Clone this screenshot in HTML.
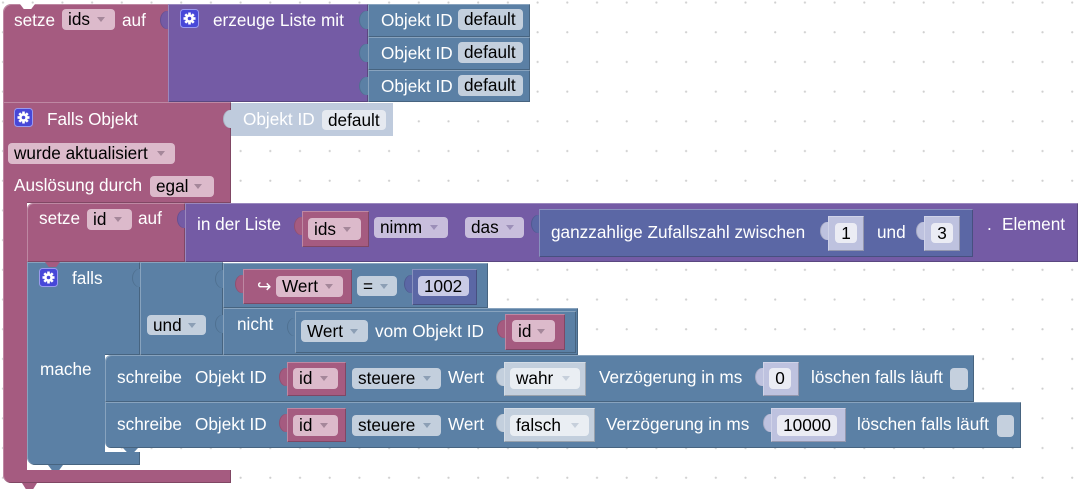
<!DOCTYPE html>
<html><head><meta charset="utf-8">
<style>
*{margin:0;padding:0;box-sizing:border-box}
body{width:1088px;height:492px;overflow:hidden;background:#fff;position:relative;font-family:"Liberation Sans",Arial,"DejaVu Sans",sans-serif;font-size:17.2px}
.a{position:absolute}
.o{box-shadow:inset 1px 1px 0 rgba(255,255,255,.28),inset -1px -1px 0 rgba(0,0,0,.22)}
.t{position:absolute;color:#fff;line-height:20px;white-space:nowrap}
.pk{background:#a55b80}
.pu{background:#745ba5}
.bl{background:#5b80a5}
.ma{background:#5b67a5}
.f{position:absolute;color:#000;border-radius:4px;white-space:nowrap;padding-left:6px}
.fp{background:#dcbacb}
.fv{background:#c8bedc}
.fb{background:#c3cfdd}
.ar{position:absolute;width:0;height:0;border-left:4px solid transparent;border-right:4px solid transparent;border-top:5px solid #a5879a;right:10px}
.fb .ar{border-top-color:#8c9fb5}
.fv .ar{border-top-color:#9c8fb8}
.tab{position:absolute;width:9px;height:18px;border-radius:7px 0 0 7px/9px 0 0 9px;box-shadow:inset 1px 0 0 rgba(0,0,0,.12)}
.bump{position:absolute;width:15px;clip-path:polygon(0 0,100% 0,75% 100%,25% 100%)}
.c{text-align:center;padding-left:0}
</style></head><body>
<svg class="a" style="left:0;top:0" width="1088" height="492"><defs><pattern id="d" x="1.8" y="1.3" width="29.7" height="29.7" patternUnits="userSpaceOnUse"><circle cx="1.2" cy="1.2" r="1.1" fill="#cfcfcf"/></pattern></defs><rect width="1088" height="492" fill="url(#d)"/></svg>

<!-- Block 1 setze ids auf -->
<div class="a pk o" style="left:3px;top:4px;width:166px;height:99px;border-radius:8px 0 0 0"></div>
<div class="bump" style="left:20px;top:4px;height:5px;background:#fff"></div>
<div class="t" style="left:14px;top:9.5px">setze</div>
<div class="f fp" style="left:62px;top:9px;width:53px;height:21px;line-height:21px">ids<span class="ar" style="top:8px"></span></div>
<div class="t" style="left:122px;top:9.5px">auf</div>

<div class="tab pu" style="left:160px;top:11px"></div>
<div class="a pu o" style="left:168px;top:4px;width:200px;height:98px"></div>
<svg class="a" style="left:180px;top:9px" width="19" height="19" viewBox="0 0 19 19"><rect x="0.5" y="0.5" width="18" height="18" rx="3" fill="#4747d8" stroke="#9a9af0"/><g fill="#fff" transform="translate(9.5 9.5)"><circle r="4.3"/><rect x="-1.3" y="-6" width="2.6" height="12"/><rect x="-1.3" y="-6" width="2.6" height="12" transform="rotate(45)"/><rect x="-1.3" y="-6" width="2.6" height="12" transform="rotate(90)"/><rect x="-1.3" y="-6" width="2.6" height="12" transform="rotate(135)"/></g><circle cx="9.5" cy="9.5" r="1.8" fill="#4747d8"/></svg>
<div class="t" style="left:213px;top:9.5px">erzeuge Liste mit</div>

<div class="tab bl" style="left:359px;top:11px"></div>
<div class="a bl o" style="left:368px;top:4px;width:162px;height:33px"></div>
<div class="t" style="left:381px;top:9.7px">Objekt ID</div>
<div class="f fb" style="left:458px;top:9px;width:65px;height:21px;line-height:21px">default</div>

<div class="tab bl" style="left:359px;top:44px"></div>
<div class="a bl o" style="left:368px;top:37px;width:162px;height:33px"></div>
<div class="t" style="left:381px;top:42.5px">Objekt ID</div>
<div class="f fb" style="left:458px;top:42px;width:65px;height:21px;line-height:21px">default</div>

<div class="tab bl" style="left:359px;top:77px"></div>
<div class="a bl o" style="left:368px;top:70px;width:162px;height:32px"></div>
<div class="t" style="left:381px;top:75.5px">Objekt ID</div>
<div class="f fb" style="left:458px;top:75px;width:65px;height:21px;line-height:21px">default</div>

<!-- Falls Objekt -->
<div class="a pk o" style="left:3px;top:102px;width:228px;height:101px"></div>
<div class="a pk" style="left:3px;top:200px;width:24px;height:283px;border-radius:0 0 0 8px;box-shadow:inset 1px 0 0 rgba(255,255,255,.28)"></div>
<div class="a pk" style="left:3px;top:470px;width:228px;height:13px;border-radius:0 0 0 8px;box-shadow:inset -1px -1px 0 rgba(0,0,0,.22),inset 1px 0 0 rgba(255,255,255,.28)"></div>
<div class="bump pk" style="left:22px;top:483px;height:6px"></div>
<svg class="a" style="left:14px;top:108px" width="19" height="19" viewBox="0 0 19 19"><rect x="0.5" y="0.5" width="18" height="18" rx="3" fill="#4747d8" stroke="#9a9af0"/><g fill="#fff" transform="translate(9.5 9.5)"><circle r="4.3"/><rect x="-1.3" y="-6" width="2.6" height="12"/><rect x="-1.3" y="-6" width="2.6" height="12" transform="rotate(45)"/><rect x="-1.3" y="-6" width="2.6" height="12" transform="rotate(90)"/><rect x="-1.3" y="-6" width="2.6" height="12" transform="rotate(135)"/></g><circle cx="9.5" cy="9.5" r="1.8" fill="#4747d8"/></svg>
<div class="t" style="left:47px;top:109px">Falls Objekt</div>
<div class="tab" style="left:223px;top:110px;background:#bfcbdd"></div>
<div class="a" style="left:231px;top:103px;width:162px;height:33px;background:#bfcbdd"></div>
<div class="t" style="left:243px;top:109px">Objekt ID</div>
<div class="f" style="left:322px;top:110px;width:64px;height:20px;line-height:20px;background:#e5e9f0">default</div>
<div class="f fp" style="left:8px;top:143px;width:167px;height:21px;line-height:21px">wurde aktualisiert<span class="ar" style="top:8px"></span></div>
<div class="t" style="left:14px;top:175px">Auslösung durch</div>
<div class="f fp" style="left:150px;top:176px;width:64px;height:21px;line-height:21px">egal<span class="ar" style="top:8px;right:12px"></span></div>

<!-- setze id auf -->
<div class="a pk o" style="left:27px;top:203px;width:158px;height:59px;border-radius:6px 0 0 0"></div>
<div class="t" style="left:39px;top:208px">setze</div>
<div class="f fp" style="left:87px;top:209px;width:45px;height:21px;line-height:21px">id<span class="ar" style="top:8px"></span></div>
<div class="t" style="left:138px;top:208px">auf</div>

<div class="tab pu" style="left:177px;top:210px"></div>
<div class="a pu o" style="left:185px;top:203px;width:893px;height:59px"></div>
<div class="t" style="left:197px;top:214px">in der Liste</div>
<div class="tab pk" style="left:294px;top:217px"></div>
<div class="a pk o" style="left:302px;top:211px;width:67px;height:36px"></div>
<div class="f fp" style="left:308px;top:218px;width:53px;height:22px;line-height:22px">ids<span class="ar" style="top:9px"></span></div>
<div class="f fv" style="left:374px;top:217px;width:74px;height:21px;line-height:21px">nimm<span class="ar" style="top:8px"></span></div>
<div class="f fv" style="left:465px;top:217px;width:59px;height:21px;line-height:21px">das<span class="ar" style="top:8px"></span></div>

<div class="tab ma" style="left:531px;top:215px"></div>
<div class="a ma o" style="left:539px;top:209px;width:434px;height:48px"></div>
<div class="t" style="left:551px;top:221.5px">ganzzahlige Zufallszahl zwischen</div>
<div class="tab" style="left:820px;top:222px;background:#bec2df"></div>
<div class="a o" style="left:828px;top:216px;width:36px;height:35px;background:#bec2df"></div>
<div class="f c" style="left:835px;top:223px;width:22px;height:20px;line-height:20px;background:#ebecf4">1</div>
<div class="t" style="left:877px;top:221.5px">und</div>
<div class="tab" style="left:916px;top:222px;background:#bec2df"></div>
<div class="a o" style="left:924px;top:216px;width:36px;height:35px;background:#bec2df"></div>
<div class="f c" style="left:931px;top:223px;width:22px;height:20px;line-height:20px;background:#ebecf4">3</div>
<div class="t" style="left:987px;top:214px">.</div>
<div class="t" style="left:1002px;top:214px">Element</div>

<!-- falls block -->
<div class="a bl o" style="left:27px;top:262px;width:113px;height:93px"></div>
<div class="a bl" style="left:27px;top:350px;width:78px;height:115px;border-radius:0 0 0 8px;box-shadow:inset 1px 0 0 rgba(255,255,255,.28)"></div>
<div class="a bl" style="left:27px;top:452px;width:113px;height:13px;border-radius:0 0 0 8px;box-shadow:inset -1px -1px 0 rgba(0,0,0,.22),inset 1px 0 0 rgba(255,255,255,.28)"></div>
<div class="bump bl" style="left:48px;top:465px;height:5px"></div>
<div class="bump pk" style="left:45px;top:262px;height:5px"></div>
<svg class="a" style="left:39px;top:268px" width="19" height="19" viewBox="0 0 19 19"><rect x="0.5" y="0.5" width="18" height="18" rx="3" fill="#4747d8" stroke="#9a9af0"/><g fill="#fff" transform="translate(9.5 9.5)"><circle r="4.3"/><rect x="-1.3" y="-6" width="2.6" height="12"/><rect x="-1.3" y="-6" width="2.6" height="12" transform="rotate(45)"/><rect x="-1.3" y="-6" width="2.6" height="12" transform="rotate(90)"/><rect x="-1.3" y="-6" width="2.6" height="12" transform="rotate(135)"/></g><circle cx="9.5" cy="9.5" r="1.8" fill="#4747d8"/></svg>
<div class="t" style="left:72px;top:268px">falls</div>
<div class="t" style="left:40px;top:359px">mache</div>

<!-- und block -->
<div class="tab bl" style="left:132px;top:269px"></div>
<div class="a bl o" style="left:140px;top:262px;width:83px;height:93px"></div>
<div class="f fb" style="left:147px;top:315px;width:59px;height:20px;line-height:20px">und<span class="ar" style="top:8px"></span></div>

<!-- compare -->
<div class="tab bl" style="left:215px;top:270px"></div>
<div class="a bl o" style="left:223px;top:263px;width:265px;height:45px"></div>
<div class="tab pk" style="left:235px;top:275px"></div>
<div class="a pk o" style="left:243px;top:269px;width:109px;height:35px"></div>
<div class="t" style="left:257px;top:276px">↪</div>
<div class="f fp" style="left:276px;top:276px;width:67px;height:21px;line-height:21px">Wert<span class="ar" style="top:8px"></span></div>
<div class="f fb" style="left:357px;top:276px;width:40px;height:20px;line-height:20px">=<span class="ar" style="top:8px;right:9px"></span></div>
<div class="tab ma" style="left:404px;top:275px"></div>
<div class="a ma o" style="left:412px;top:269px;width:65px;height:36px"></div>
<div class="f" style="left:418px;top:276px;width:51px;height:20px;line-height:20px;background:#c9cbe6">1002</div>

<!-- nicht -->
<div class="tab bl" style="left:215px;top:315px"></div>
<div class="a bl o" style="left:223px;top:308px;width:355px;height:47px"></div>
<div class="t" style="left:237px;top:314px">nicht</div>
<div class="tab bl" style="left:287px;top:318px"></div>
<div class="a bl o" style="left:295px;top:311px;width:281px;height:42px"></div>
<div class="f fb" style="left:301px;top:320px;width:67px;height:22px;line-height:22px">Wert<span class="ar" style="top:9px"></span></div>
<div class="t" style="left:375px;top:320.5px">vom Objekt ID</div>
<div class="tab pk" style="left:497px;top:320px"></div>
<div class="a pk o" style="left:505px;top:314px;width:60px;height:36px"></div>
<div class="f fp" style="left:512px;top:320px;width:43px;height:22px;line-height:22px">id<span class="ar" style="top:9px"></span></div>

<!-- schreibe 1 -->
<div class="a bl o" style="left:105px;top:355px;width:869px;height:47px;border-radius:6px 0 0 0"></div>
<div class="t" style="left:117px;top:367px">schreibe</div>
<div class="t" style="left:195px;top:367px">Objekt ID</div>
<div class="tab pk" style="left:279px;top:368px"></div>
<div class="a pk o" style="left:287px;top:362px;width:59px;height:34px"></div>
<div class="f fp" style="left:293px;top:368px;width:45px;height:21px;line-height:21px">id<span class="ar" style="top:8px"></span></div>
<div class="f fb" style="left:352px;top:368px;width:89px;height:21px;line-height:21px">steuere<span class="ar" style="top:8px"></span></div>
<div class="t" style="left:448px;top:367px">Wert</div>
<div class="tab" style="left:496px;top:368px;background:#c3cfdd"></div>
<div class="a o" style="left:504px;top:362px;width:82px;height:34px;background:#c3cfdd"></div>
<div class="f" style="left:510px;top:368px;width:70px;height:21px;line-height:21px;background:#eaeef3">wahr<span class="ar" style="top:8px;border-top-color:#c6cfdb"></span></div>
<div class="t" style="left:599px;top:367px">Verzögerung in ms</div>
<div class="tab" style="left:755px;top:368px;background:#bec2df"></div>
<div class="a o" style="left:763px;top:362px;width:36px;height:34px;background:#bec2df"></div>
<div class="f c" style="left:769px;top:368px;width:22px;height:21px;line-height:21px;background:#ebecf4">0</div>
<div class="t" style="left:811px;top:367px">löschen falls läuft</div>
<div class="a" style="left:950px;top:368px;width:18px;height:22px;border-radius:4px;background:#c5d0de"></div>

<!-- schreibe 2 -->
<div class="a bl o" style="left:105px;top:402px;width:916px;height:46px;border-radius:0 0 0 6px"></div>
<div class="bump bl" style="left:123px;top:448px;height:4px"></div>
<div class="t" style="left:117px;top:413.5px">schreibe</div>
<div class="t" style="left:195px;top:413.5px">Objekt ID</div>
<div class="tab pk" style="left:279px;top:414px"></div>
<div class="a pk o" style="left:287px;top:408px;width:59px;height:34px"></div>
<div class="f fp" style="left:293px;top:415px;width:45px;height:21px;line-height:21px">id<span class="ar" style="top:8px"></span></div>
<div class="f fb" style="left:352px;top:415px;width:89px;height:21px;line-height:21px">steuere<span class="ar" style="top:8px"></span></div>
<div class="t" style="left:448px;top:413.5px">Wert</div>
<div class="tab" style="left:496px;top:414px;background:#c3cfdd"></div>
<div class="a o" style="left:504px;top:408px;width:91px;height:34px;background:#c3cfdd"></div>
<div class="f" style="left:510px;top:415px;width:79px;height:21px;line-height:21px;background:#eaeef3">falsch<span class="ar" style="top:8px;border-top-color:#c6cfdb"></span></div>
<div class="t" style="left:606px;top:413.5px">Verzögerung in ms</div>
<div class="tab" style="left:763px;top:414px;background:#bec2df"></div>
<div class="a o" style="left:771px;top:408px;width:75px;height:34px;background:#bec2df"></div>
<div class="f c" style="left:777px;top:415px;width:60px;height:21px;line-height:21px;background:#ebecf4">10000</div>
<div class="t" style="left:857px;top:413.5px">löschen falls läuft</div>
<div class="a" style="left:997px;top:415px;width:17px;height:22px;border-radius:4px;background:#c5d0de"></div>
</body></html>
